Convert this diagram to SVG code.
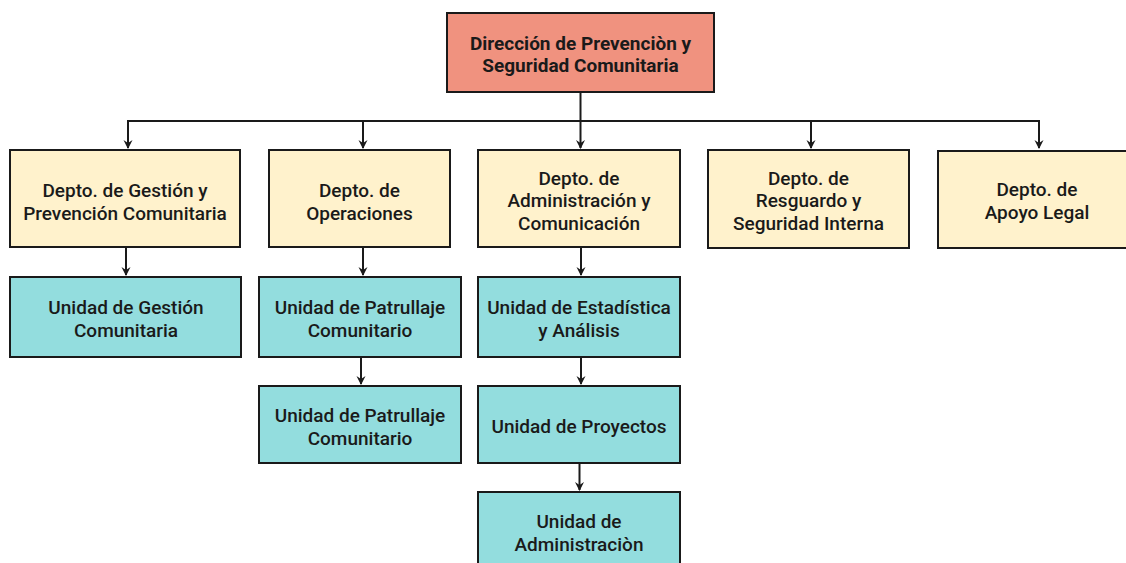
<svg xmlns="http://www.w3.org/2000/svg" width="1126" height="563" viewBox="0 0 1126 563">
<style>
.box{stroke:#1a1a1a;stroke-width:2}
.top{fill:#F0927F}
.dep{fill:#FFF2CC}
.uni{fill:#93DDDE}
text{font-family:Roboto,"Liberation Sans",sans-serif;font-size:19px;font-weight:500;fill:#1a1a1a;text-anchor:middle}
.t{font-weight:700}
.c{fill:none;stroke:#1a1a1a;stroke-width:2}
</style>
<defs>
<marker id="ah" markerWidth="12" markerHeight="12" refX="10" refY="6" orient="auto" markerUnits="userSpaceOnUse" viewBox="0 0 12 12">
<path d="M2,1.5 L11,6 L2,10.5 L5,6 Z" fill="#1a1a1a"/>
</marker>
</defs>
<rect width="1126" height="563" fill="#ffffff"/>
<g id="n-direccion">
<rect class="box top" x="447" y="13" width="267" height="79"/>
<text class="t" x="580.5" y="49.5">Dirección de Prevenciòn y</text>
<text class="t" x="580.5" y="72">Seguridad Comunitaria</text>
</g>
<g id="n-gestion">
<rect class="box dep" x="10" y="150" width="230" height="97"/>
<text x="125" y="197">Depto. de Gestión y</text>
<text x="125" y="219.5">Prevención Comunitaria</text>
</g>
<g id="n-operaciones">
<rect class="box dep" x="269" y="150" width="181" height="97"/>
<text x="359.5" y="197">Depto. de</text>
<text x="359.5" y="219.5">Operaciones</text>
</g>
<g id="n-administracion">
<rect class="box dep" x="478" y="150" width="202" height="97"/>
<text x="579" y="184.5">Depto. de</text>
<text x="579" y="207">Administración y</text>
<text x="579" y="229.5">Comunicación</text>
</g>
<g id="n-resguardo">
<rect class="box dep" x="708" y="150" width="201" height="98"/>
<text x="808.5" y="184.5">Depto. de</text>
<text x="808.5" y="207">Resguardo y</text>
<text x="808.5" y="229.5">Seguridad Interna</text>
</g>
<g id="n-legal">
<rect class="box dep" x="938" y="151" width="200" height="97"/>
<text x="1037" y="196">Depto. de</text>
<text x="1037" y="218.5">Apoyo Legal</text>
</g>
<g id="n-u-gestion">
<rect class="box uni" x="10" y="277" width="231" height="80"/>
<text x="126" y="314">Unidad de Gestión</text>
<text x="126" y="336.5">Comunitaria</text>
</g>
<g id="n-u-patrullaje1">
<rect class="box uni" x="259" y="277" width="202" height="80"/>
<text x="360" y="314">Unidad de Patrullaje</text>
<text x="360" y="336.5">Comunitario</text>
</g>
<g id="n-u-estadistica">
<rect class="box uni" x="478" y="277" width="202" height="80"/>
<text x="579" y="314">Unidad de Estadística</text>
<text x="579" y="336.5">y Análisis</text>
</g>
<g id="n-u-patrullaje2">
<rect class="box uni" x="259" y="386" width="202" height="77"/>
<text x="360" y="422">Unidad de Patrullaje</text>
<text x="360" y="444.5">Comunitario</text>
</g>
<g id="n-u-proyectos">
<rect class="box uni" x="478" y="386" width="202" height="77"/>
<text x="579" y="433">Unidad de Proyectos</text>
</g>
<g id="n-u-admin">
<rect class="box uni" x="478" y="492" width="202" height="80"/>
<text x="579" y="528">Unidad de</text>
<text x="579" y="550.5">Administraciòn</text>
</g>
<g id="connectors">
<path class="c" d="M580.5,93 V121"/>
<path class="c" d="M128,148 V121 H1039 V148" marker-end="url(#ah)"/>
<path class="c" d="M128,121 V148" marker-end="url(#ah)"/>
<path class="c" d="M363,121 V148" marker-end="url(#ah)"/>
<path class="c" d="M580.5,121 V148" marker-end="url(#ah)"/>
<path class="c" d="M811,121 V148" marker-end="url(#ah)"/>
<path class="c" d="M126,248 V275" marker-end="url(#ah)"/>
<path class="c" d="M363,248 V275" marker-end="url(#ah)"/>
<path class="c" d="M581,248 V275" marker-end="url(#ah)"/>
<path class="c" d="M361,358 V384" marker-end="url(#ah)"/>
<path class="c" d="M581,358 V384" marker-end="url(#ah)"/>
<path class="c" d="M579.5,464 V490" marker-end="url(#ah)"/>
</g>
</svg>
